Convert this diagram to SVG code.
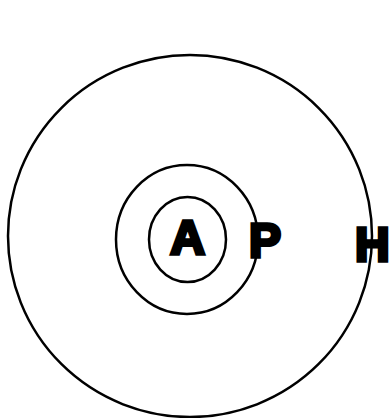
<svg xmlns="http://www.w3.org/2000/svg" width="390" height="418" viewBox="0 0 390 418">
<style>
.ring{fill:none;stroke:#000;stroke-width:2.5}
.lbl{font-family:"Liberation Sans",Arial,sans-serif;font-weight:bold;font-size:48px;fill:#000;stroke:#000;stroke-width:3.5;stroke-linejoin:miter}
</style>
<rect width="390" height="418" fill="#fff"/>
<g id="H">
<ellipse class="ring" cx="190" cy="236" rx="182" ry="181"/>
<text class="lbl" x="355" y="260.5">H</text>
</g>
<g id="P">
<ellipse class="ring" cx="187" cy="239.5" rx="71" ry="74.5"/>
<text class="lbl" x="249" y="256.5">P</text>
</g>
<g id="A">
<ellipse class="ring" cx="187.5" cy="239.5" rx="38.5" ry="42.5"/>
<text class="lbl" x="187.5" y="253.5" text-anchor="middle">A</text>
</g>
<g id="connectors"/>
</svg>
